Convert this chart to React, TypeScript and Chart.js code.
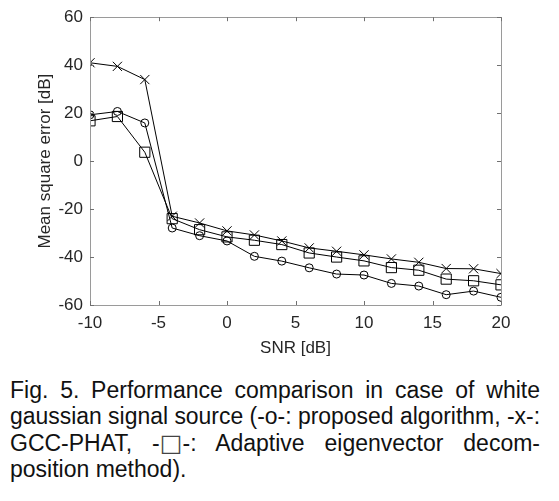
import React, { useEffect, useLayoutEffect, useRef, useState } from "react";
import { Chart, registerables } from "chart.js";

Chart.register(...registerables);

const snr = [-10, -8, -6, -4, -2, 0, 2, 4, 6, 8, 10, 12, 14, 16, 18, 20];
const proposed = [19.3, 20.7, 15.9, -27.9, -31.1, -33.3, -39.7, -41.7, -44.5, -47.1, -47.5, -51, -52.1, -55.7, -54.2, -56.8];
const gccPhat = [41, 39.5, 34, -23, -25.8, -29.1, -30.8, -33.3, -36.2, -37.6, -39.1, -40.8, -42.2, -44.8, -44.9, -46.9];
const eigen = [16.8, 18.6, 3.7, -24, -28.6, -31.6, -33, -34.8, -38.3, -40, -41.6, -44.4, -45.5, -49.2, -49.9, -51.6];

const xTicks = [-10, -5, 0, 5, 10, 15, 20];
const yTicks = [-60, -40, -20, 0, 20, 40, 60];

const captionLines = [
  "Fig. 5. Performance comparison in case of white",
  "gaussian signal source (-o-: proposed algorithm, -x-:",
  "GCC-PHAT, -\u25A1-: Adaptive eigenvector decom-",
  "position method).",
];

const FONT = "'Liberation Sans', Arial, sans-serif";
const CAPTION_FONT = "'Liberation Sans', Arial, sans-serif";

const boxPlugin = {
  id: "matlabBox",
  afterDatasetsDraw(chart: any) {
    const { ctx, chartArea, scales } = chart;
    const { left, right, top, bottom } = chartArea;
    ctx.save();
    ctx.strokeStyle = "#9a9a9a";
    ctx.lineWidth = 1;
    ctx.beginPath();
    ctx.rect(Math.round(left) + 0.5, Math.round(top) + 0.5, Math.round(right - left), Math.round(bottom - top));
    ctx.stroke();
    ctx.strokeStyle = "#707070";
    ctx.beginPath();
    const tl = 4;
    for (const v of xTicks) {
      const px = Math.round(scales.x.getPixelForValue(v)) + 0.5;
      ctx.moveTo(px, bottom);
      ctx.lineTo(px, bottom - tl);
      ctx.moveTo(px, top);
      ctx.lineTo(px, top + tl);
    }
    for (const v of yTicks) {
      const py = Math.round(scales.y.getPixelForValue(v)) + 0.5;
      ctx.moveTo(left, py);
      ctx.lineTo(left + tl, py);
      ctx.moveTo(right, py);
      ctx.lineTo(right - tl, py);
    }
    ctx.stroke();
    ctx.restore();
  },
};

function CaptionLine({ text, top, justify }: { text: string; top: number; justify: boolean }) {
  const ref = useRef<HTMLSpanElement>(null);
  const [style, setStyle] = useState<any>({});
  const target = 530;
  useLayoutEffect(() => {
    const el = ref.current;
    if (!el) return;
    const w = el.getBoundingClientRect().width;
    if (w > target) {
      setStyle({ transform: `scaleX(${target / w})`, transformOrigin: "left top" });
    } else if (justify) {
      const spaces = (text.match(/ /g) || []).length;
      if (spaces > 0) setStyle({ wordSpacing: `${(target - w) / spaces}px` });
    }
  }, [text, justify]);
  const parts = text.split("\u25A1");
  return (
    <div style={{ position: "absolute", left: 10, top, whiteSpace: "nowrap", fontFamily: CAPTION_FONT, fontSize: 23, lineHeight: "26px", color: "#111" }}>
      <span ref={ref} style={{ display: "inline-block", ...style }}>
        {parts.map((p, i) => (
          <React.Fragment key={i}>
            {i > 0 && <span style={{ fontFamily: "'DejaVu Sans'", fontSize: 24, color: "#444", fontVariantEmoji: "text" } as any}>{"\u25A1"}</span>}
            {p}
          </React.Fragment>
        ))}
      </span>
    </div>
  );
}

export default function App() {
  const canvasRef = useRef<HTMLCanvasElement>(null);

  useEffect(() => {
    const canvas = canvasRef.current;
    if (!canvas) return;
    const mk = (arr: number[]) => snr.map((x, i) => ({ x, y: arr[i] }));
    const common = {
      borderColor: "#000",
      borderWidth: 1,
      pointBorderColor: "#000",
      pointBackgroundColor: "rgba(0,0,0,0)",
      pointBorderWidth: 1,
      fill: false,
      tension: 0,
    };
    const chart = new Chart(canvas, {
      type: "line",
      data: {
        datasets: [
          { label: "proposed algorithm", data: mk(proposed), pointStyle: "circle", pointRadius: 4, ...common },
          { label: "GCC-PHAT", data: mk(gccPhat), pointStyle: "crossRot", pointRadius: 6.5, ...common },
          { label: "Adaptive eigenvector decomposition method", data: mk(eigen), pointStyle: "rect", pointRadius: 7.2, ...common },
        ],
      },
      options: {
        animation: false,
        responsive: false,
        devicePixelRatio: 1,
        layout: { padding: { left: 35, top: 16, right: 58, bottom: 0 } },
        plugins: { legend: { display: false }, tooltip: { enabled: false } },
        scales: {
          x: {
            type: "linear",
            min: -10,
            max: 20,
            afterFit: (s: any) => { s.height = 54; },
            afterBuildTicks: (s: any) => { s.ticks = xTicks.map((v) => ({ value: v })); },
            grid: { display: false, drawTicks: false },
            border: { display: false },
            ticks: { padding: 8, color: "#262626", font: { family: FONT, size: 17 }, maxRotation: 0 },
            title: { display: true, text: "SNR [dB]", color: "#262626", padding: 0, font: { family: FONT, size: 17 } },
          },
          y: {
            type: "linear",
            min: -60,
            max: 60,
            afterFit: (s: any) => { s.width = 55; },
            afterBuildTicks: (s: any) => { s.ticks = yTicks.map((v) => ({ value: v })); },
            grid: { display: false, drawTicks: false },
            border: { display: false },
            ticks: { padding: 7, color: "#262626", font: { family: FONT, size: 17 } },
            title: { display: true, text: "Mean square error [dB]", color: "#262626", padding: 0, font: { family: FONT, size: 17 } },
          },
        },
      },
      plugins: [boxPlugin],
    } as any);
    return () => chart.destroy();
  }, []);

  return (
    <div style={{ position: "absolute", left: 0, top: 0, width: 559, height: 501, background: "#fff" }}>
      <canvas ref={canvasRef} width={559} height={359} style={{ position: "absolute", left: 0, top: 0, width: 559, height: 359 }} />
      {captionLines.map((t, i) => (
        <CaptionLine key={i} text={t} top={377 + i * 26.3} justify={i < 3} />
      ))}
    </div>
  );
}
